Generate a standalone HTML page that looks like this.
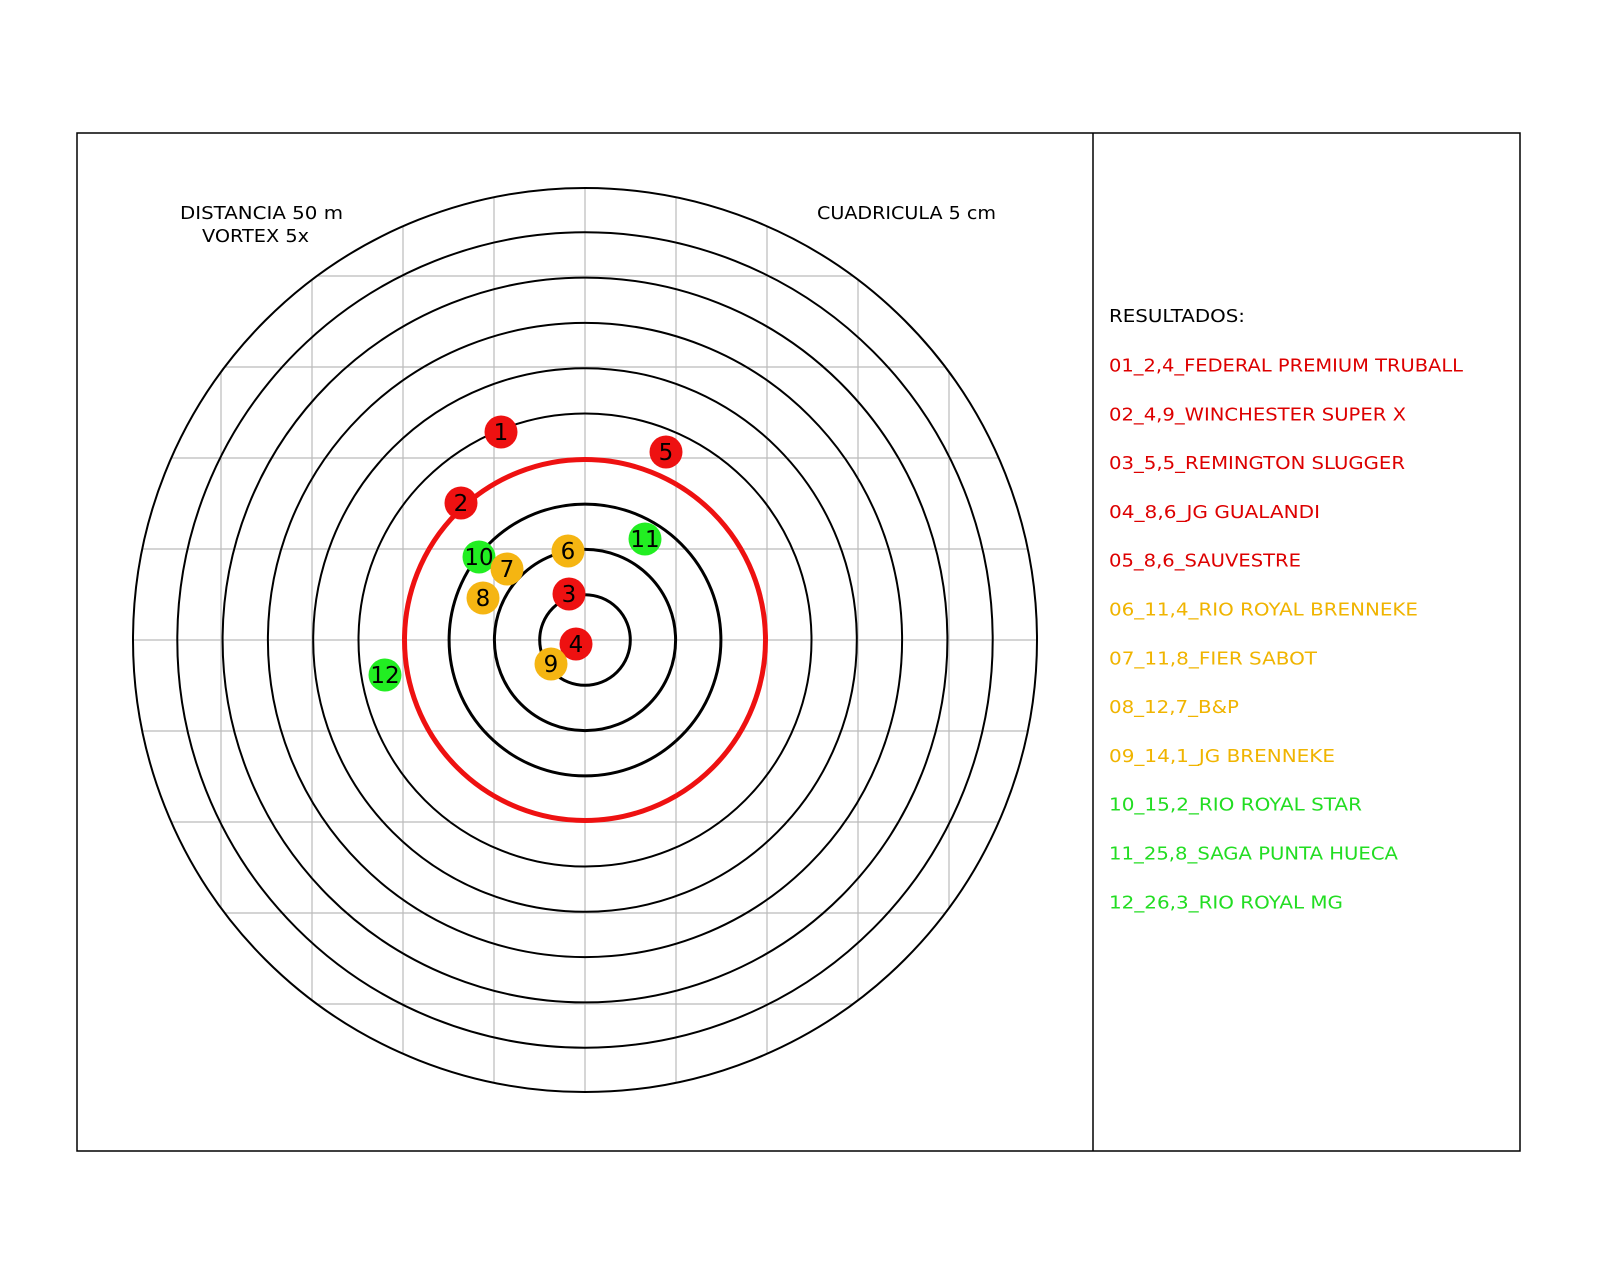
<!DOCTYPE html>
<html><head><meta charset="utf-8"><style>html,body{margin:0;padding:0;background:#fff}svg{display:block}</style></head>
<body>
<svg width="1600" height="1280" viewBox="0 0 1600 1280" xmlns="http://www.w3.org/2000/svg" font-family="'DejaVu Sans','Liberation Sans',sans-serif">
<rect x="0" y="0" width="1600" height="1280" fill="#fff"/>
<defs><clipPath id="c"><circle cx="585" cy="640" r="452"/></clipPath></defs>
<g stroke="#bbb" stroke-width="1.2" clip-path="url(#c)">
<line x1="221" y1="188" x2="221" y2="1092"/><line x1="312" y1="188" x2="312" y2="1092"/><line x1="403" y1="188" x2="403" y2="1092"/><line x1="494" y1="188" x2="494" y2="1092"/><line x1="585" y1="188" x2="585" y2="1092"/><line x1="676" y1="188" x2="676" y2="1092"/><line x1="767" y1="188" x2="767" y2="1092"/><line x1="858" y1="188" x2="858" y2="1092"/><line x1="949" y1="188" x2="949" y2="1092"/>
<line x1="133" y1="276" x2="1037" y2="276"/><line x1="133" y1="367" x2="1037" y2="367"/><line x1="133" y1="458" x2="1037" y2="458"/><line x1="133" y1="549" x2="1037" y2="549"/><line x1="133" y1="640" x2="1037" y2="640"/><line x1="133" y1="731" x2="1037" y2="731"/><line x1="133" y1="822" x2="1037" y2="822"/><line x1="133" y1="913" x2="1037" y2="913"/><line x1="133" y1="1004" x2="1037" y2="1004"/>
</g>
<g fill="none" stroke="#000">
<circle cx="585" cy="640" r="45.3" stroke-width="3"/>
<circle cx="585" cy="640" r="90.6" stroke-width="3"/>
<circle cx="585" cy="640" r="135.9" stroke-width="3"/>
<circle cx="585" cy="640" r="226.5" stroke-width="2"/>
<circle cx="585" cy="640" r="271.8" stroke-width="2"/>
<circle cx="585" cy="640" r="317.1" stroke-width="2"/>
<circle cx="585" cy="640" r="362.4" stroke-width="2"/>
<circle cx="585" cy="640" r="407.7" stroke-width="2"/>
<circle cx="585" cy="640" r="452" stroke-width="2"/>
</g>
<circle cx="585" cy="640" r="180.5" fill="none" stroke="#ee1111" stroke-width="5"/>
<g font-size="23" text-anchor="middle" fill="#000">
<circle cx="501" cy="432" r="16.5" fill="#ee1111"/><text x="501" y="440">1</text>
<circle cx="666" cy="452" r="16.5" fill="#ee1111"/><text x="666" y="460">5</text>
<circle cx="461" cy="503" r="16.5" fill="#ee1111"/><text x="461" y="511">2</text>
<circle cx="645" cy="539" r="16.5" fill="#22ee22"/><text x="645" y="547">11</text>
<circle cx="568" cy="551" r="16.5" fill="#f5b512"/><text x="568" y="559">6</text>
<circle cx="479" cy="557" r="16.5" fill="#22ee22"/><text x="479" y="565">10</text>
<circle cx="507" cy="569" r="16.5" fill="#f5b512"/><text x="507" y="577">7</text>
<circle cx="483" cy="598" r="16.5" fill="#f5b512"/><text x="483" y="606">8</text>
<circle cx="569" cy="594" r="16.5" fill="#ee1111"/><text x="569" y="602">3</text>
<circle cx="576" cy="644" r="16.5" fill="#ee1111"/><text x="576" y="652">4</text>
<circle cx="551" cy="664" r="16.5" fill="#f5b512"/><text x="551" y="672">9</text>
<circle cx="385" cy="675" r="16.5" fill="#22ee22"/><text x="385" y="683">12</text>
</g>
<g font-size="18" fill="#000">
<text x="180" y="219" textLength="163" lengthAdjust="spacingAndGlyphs">DISTANCIA 50 m</text>
<text x="202" y="242" textLength="107" lengthAdjust="spacingAndGlyphs">VORTEX 5x</text>
<text x="817" y="219" textLength="179" lengthAdjust="spacingAndGlyphs">CUADRICULA 5 cm</text>
<text x="1109" y="322" textLength="136" lengthAdjust="spacingAndGlyphs">RESULTADOS:</text>
</g>
<g font-size="18" lengthAdjust="spacingAndGlyphs">
<text x="1109" y="371.5" fill="#dd0000" textLength="354" lengthAdjust="spacingAndGlyphs">01_2,4_FEDERAL PREMIUM TRUBALL</text>
<text x="1109" y="420.3" fill="#dd0000" textLength="297" lengthAdjust="spacingAndGlyphs">02_4,9_WINCHESTER SUPER X</text>
<text x="1109" y="469.1" fill="#dd0000" textLength="296" lengthAdjust="spacingAndGlyphs">03_5,5_REMINGTON SLUGGER</text>
<text x="1109" y="517.9" fill="#dd0000" textLength="211" lengthAdjust="spacingAndGlyphs">04_8,6_JG GUALANDI</text>
<text x="1109" y="566.7" fill="#dd0000" textLength="192" lengthAdjust="spacingAndGlyphs">05_8,6_SAUVESTRE</text>
<text x="1109" y="615.5" fill="#f0b400" textLength="309" lengthAdjust="spacingAndGlyphs">06_11,4_RIO ROYAL BRENNEKE</text>
<text x="1109" y="664.3" fill="#f0b400" textLength="208" lengthAdjust="spacingAndGlyphs">07_11,8_FIER SABOT</text>
<text x="1109" y="713.1" fill="#f0b400" textLength="130" lengthAdjust="spacingAndGlyphs">08_12,7_B&amp;P</text>
<text x="1109" y="761.9" fill="#f0b400" textLength="226" lengthAdjust="spacingAndGlyphs">09_14,1_JG BRENNEKE</text>
<text x="1109" y="810.7" fill="#22dd22" textLength="253" lengthAdjust="spacingAndGlyphs">10_15,2_RIO ROYAL STAR</text>
<text x="1109" y="859.5" fill="#22dd22" textLength="289" lengthAdjust="spacingAndGlyphs">11_25,8_SAGA PUNTA HUECA</text>
<text x="1109" y="908.3" fill="#22dd22" textLength="234" lengthAdjust="spacingAndGlyphs">12_26,3_RIO ROYAL MG</text>
</g>
<rect x="77" y="133" width="1443" height="1018" fill="none" stroke="#000" stroke-width="1.5"/>
<line x1="1093" y1="133" x2="1093" y2="1151" stroke="#000" stroke-width="1.5"/>
</svg>
</body></html>
